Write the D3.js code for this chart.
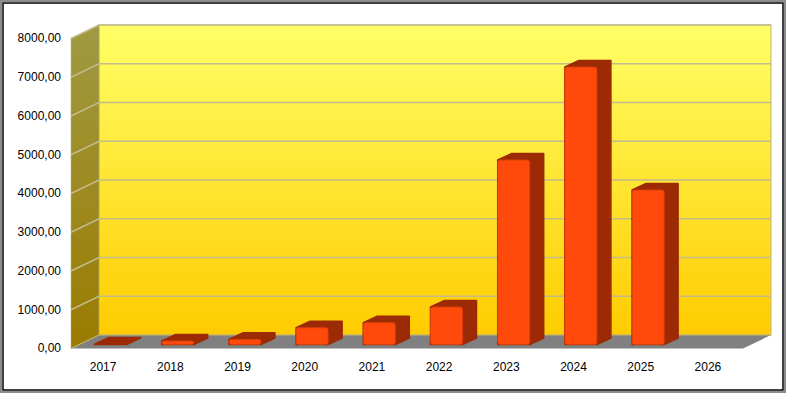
<!DOCTYPE html>
<html lang="en">
<head>
<meta charset="UTF-8">
<title>Bars by year</title>
<style>
    html, body { margin: 0; padding: 0; background: #fff; }
    svg { display: block; }
    text { font-family: "Liberation Sans", Arial, sans-serif; font-size: 12px; fill: #000; }
</style>
</head>
<body>
<script src="https://d3js.org/d3.v7.min.js"></script>
<script>
    // values
    const years = ["2017", "2018", "2019", "2020", "2021", "2022", "2023", "2024", "2025", "2026"];
    const values = [10, 90, 134, 434, 563, 968, 4760, 7160, 3987, 0];
    const yTicks = [0, 1000, 2000, 3000, 4000, 5000, 6000, 7000, 8000];

    const width = 787, height = 394;
    // front edge of the floor and the shift back to the wall
    const front = {left: 71, right: 743, bottom: 348.5};
    const depth = {x: 28, y: 13.5};
    const plotTop = 38.5;
    const bar = {offset: 23.5, width: 32, dx: 14, dy: 6.5, base: 344.5};

    const svg = d3.select("body").append("svg")
        .attr("width", width)
        .attr("height", height);

    const defs = svg.append("defs");
    function gradient(id, top, bottom) {
        const g = defs.append("linearGradient")
            .attr("id", id)
            .attr("x1", 0).attr("y1", 0).attr("x2", 0).attr("y2", 1);
        g.append("stop").attr("offset", "0%").attr("stop-color", top);
        g.append("stop").attr("offset", "100%").attr("stop-color", bottom);
    }
    gradient("wallBack", "#ffff66", "#ffcc00");
    gradient("wallLeft", "#a09a42", "#9a7b00");

    const x = d3.scaleBand().domain(years).range([front.left, front.right]);
    const y = d3.scaleLinear().domain([0, 8000]).range([front.bottom, plotTop]);
    const pxPerUnit = (front.bottom - plotTop) / 8000;

    // frame
    svg.append("rect").attr("x", 1).attr("y", 1).attr("width", 784).attr("height", 391)
        .attr("fill", "none").attr("stroke", "#8c8c8c").attr("stroke-width", 2);
    svg.append("rect").attr("x", 3).attr("y", 3).attr("width", 780).attr("height", 387)
        .attr("fill", "#fff").attr("stroke", "#000").attr("stroke-width", 1.5);

    // back wall
    svg.append("rect")
        .attr("x", front.left + depth.x)
        .attr("y", y(8000) - depth.y)
        .attr("width", front.right - front.left)
        .attr("height", front.bottom - plotTop)
        .attr("fill", "url(#wallBack)")
        .attr("stroke", "#b8b480");

    // left wall
    svg.append("path")
        .attr("d", d3.line()([
            [front.left, y(8000)],
            [front.left + depth.x, y(8000) - depth.y],
            [front.left + depth.x, y(0) - depth.y],
            [front.left, y(0)]
        ]) + "Z")
        .attr("fill", "url(#wallLeft)")
        .attr("stroke", "#b8b480")
        .attr("stroke-width", 0.6);

    // floor
    svg.append("path")
        .attr("d", d3.line()([
            [front.left, y(0)],
            [front.left + depth.x, y(0) - depth.y],
            [front.right + depth.x, y(0) - depth.y],
            [front.right, y(0)]
        ]) + "Z")
        .attr("fill", "#808080");

    // grid lines run along the left wall then across the back
    svg.append("g").selectAll("path")
        .data(yTicks.filter(d => d > 0))
        .enter().append("path")
        .attr("d", d => d3.line()([
            [front.left, y(d)],
            [front.left + depth.x, y(d) - depth.y],
            [front.right + depth.x, y(d) - depth.y]
        ]))
        .attr("fill", "none")
        .attr("stroke", "#c2bb8a")
        .attr("stroke-width", 1.5);

    // line where the floor meets the walls
    svg.append("path")
        .attr("d", d3.line()([
            [front.left, y(0)],
            [front.left + depth.x, y(0) - depth.y],
            [front.right + depth.x, y(0) - depth.y]
        ]))
        .attr("fill", "none")
        .attr("stroke", "#c8b860");

    // bars
    const bars = svg.append("g").selectAll("g")
        .data(values.map((v, i) => ({year: years[i], value: v})).filter(d => d.value > 0))
        .enter().append("g");

    const barX = d => x(d.year) + bar.offset;
    const barH = d => d.value * pxPerUnit;
    const barTop = d => bar.base - barH(d);

    // top and side share one dark shape
    bars.append("path")
        .attr("d", d => d3.line()([
            [barX(d), barTop(d)],
            [barX(d) + bar.dx, barTop(d) - bar.dy],
            [barX(d) + bar.width + bar.dx, barTop(d) - bar.dy],
            [barX(d) + bar.width + bar.dx, bar.base - bar.dy],
            [barX(d) + bar.width, bar.base],
            [barX(d), bar.base]
        ]) + "Z")
        .attr("fill", "#9c2a04")
        .attr("stroke", "#9c2a04")
        .attr("stroke-width", 1.5)
        .attr("stroke-linejoin", "round");

    bars.append("rect")
        .filter(d => barH(d) > 1)
        .attr("x", barX)
        .attr("y", barTop)
        .attr("width", bar.width)
        .attr("height", barH)
        .attr("rx", 2.5)
        .attr("fill", "#ff4a0c")
        .attr("stroke", "#d83e08")
        .attr("stroke-width", 1);

    // axes
    const yAxis = svg.append("g")
        .attr("transform", "translate(" + (front.left - 10) + ",-0.5)")
        .call(d3.axisLeft(y)
            .tickValues(yTicks)
            .tickSize(0)
            .tickPadding(0)
            .tickFormat(d => d3.format(".2f")(d).replace(".", ",")));
    yAxis.select(".domain").remove();

    const xAxis = svg.append("g")
        .attr("transform", "translate(-1.5," + (front.bottom + 13.5) + ")")
        .call(d3.axisBottom(x).tickSize(0).tickPadding(0));
    xAxis.select(".domain").remove();

    svg.selectAll(".tick text")
        .style("font-family", '"Liberation Sans", Arial, sans-serif')
        .style("font-size", "12px")
        .attr("fill", "#000");
</script>
</body>
</html>
